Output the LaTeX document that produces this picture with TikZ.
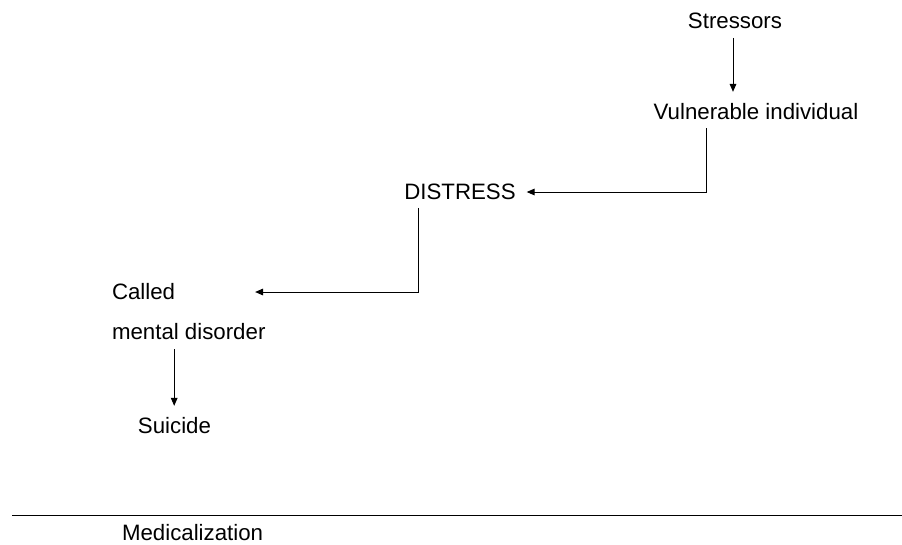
\documentclass[tikz,border=0pt]{standalone}
\usepackage{fontspec}
\setmainfont{Liberation Sans}
\usetikzlibrary{arrows.meta}

\begin{document}
\begin{tikzpicture}[
  x=0.75pt, y=-0.75pt,
  lbl/.style={inner sep=0pt, outer sep=0pt, font=\fontsize{16.7}{20}\selectfont},
  conn/.style={line width=0.75pt, black},
  arr/.style={conn, -{Triangle[length=6pt, width=5pt]}}
]
  \useasboundingbox (0,0) rectangle (902,544);

  % labels
  \node[lbl] (stress)   at (735,21)  {Stressors};
  \node[lbl] (vuln)     at (756,112) {Vulnerable individual};
  \node[lbl] (distress) at (460,192) {DISTRESS};
  \node[lbl, anchor=west] (called) at (112,292) {Called};
  \node[lbl, anchor=west] (mental) at (112,332) {mental disorder};
  \node[lbl] (suicide)  at (174.5,426) {Suicide};
  \node[lbl, anchor=west] (medic) at (122,533) {Medicalization};

  % connectors
  \draw[arr, shorten <=6.75pt, shorten >=9pt]
    ([xshift=-1.5pt]stress.south) -- ([xshift=-1.5pt]stress.south |- vuln.north);
  \draw[arr, shorten <=6pt, shorten >=8.25pt]
    ([xshift=-37.5pt]vuln.south) |- (distress.east);
  \draw[arr, shorten <=6pt, shorten >=60pt]
    ([xshift=-31.5pt]distress.south) |- (called.east);
  \draw[arr, shorten <=6.75pt, shorten >=9pt]
    ([xshift=-10.9pt]mental.south) -- ([xshift=-10.9pt]mental.south |- suicide.north);

  % rule above the bottom caption
  \draw[conn] (12,515) -- (902,515);
\end{tikzpicture}
\end{document}
